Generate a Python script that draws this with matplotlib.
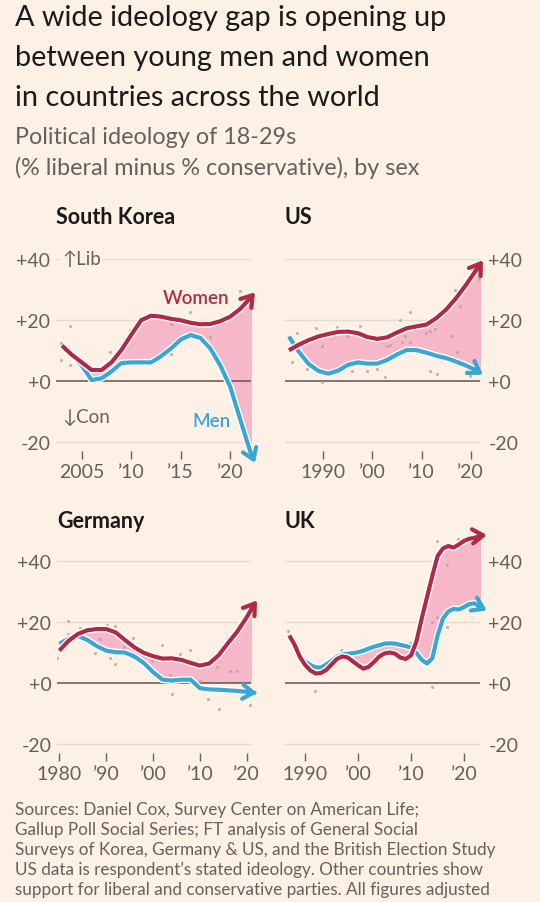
import numpy as np
import matplotlib
matplotlib.use("Agg")
import matplotlib.pyplot as plt
import matplotlib.patheffects as pe

plt.rcParams['font.family'] = ['Lato', 'DejaVu Sans']

# ---- data ----
kr_years = [2003, 2004, 2005, 2006, 2007, 2008, 2009, 2010, 2011, 2012, 2013,
            2014, 2015, 2016, 2017, 2018, 2019, 2020, 2021, 2022, 2022.5]
kr_women = [11.5, 8.5, 6, 3.5, 3.5, 6, 10, 15, 19.8, 21.3, 21, 20.3, 19.8, 19,
            18.5, 18.6, 19.5, 21, 23.5, 27, 29]
kr_men = [11, 8.5, 5, 0.2, 0.8, 3, 5.8, 6, 6, 6, 8, 10.5, 13.5, 15, 14, 10.5,
          5, -2, -12.6, -23, -27]
kr_dots_x = [2003.8, 2002.9, 2002.9, 2003.8, 2007.9, 2009.9, 2014, 2015.9, 2018,
             2021, 2022.1, 2006.9, 2008.9, 2014, 2015.6]
kr_dots_y = [17.8, 12.3, 6.9, 5.2, 9.3, 16.7, 18.5, 22.4, 14.2, 29.5, 25.1,
             0.5, 6, 8.7, 14.8]

us_years = [1983, 1985, 1987, 1989, 1991, 1993, 1995, 1997, 1999, 2001, 2003,
            2005, 2007, 2009, 2011, 2013, 2015, 2017, 2019, 2021, 2022.5]
us_women = [10, 11.8, 13.3, 14.5, 15.3, 16, 16.1, 15.6, 14.3, 13.7, 14.2, 15.8,
            17.2, 17.8, 18.4, 20.5, 23.3, 27, 31.3, 36, 39.5]
us_men = [14.5, 9.5, 5.5, 3.2, 2.3, 3.3, 5.2, 6, 5.6, 5.6, 6.8, 8.6, 10.1, 10,
          9.2, 8.2, 7.4, 6.3, 5, 3.5, 2]
us_dots_x = [1984.6, 1988.6, 1992.7, 1997.5, 2005.6, 2007.7, 2011, 2011.7, 2012.7,
             2014.4, 2016.8, 2017.8, 2020.5, 2021.6, 1989.7, 2002.9, 2003.6,
             2006.6, 1994.8, 1983.6, 1986.6, 1989.7, 1995.8, 1998.8, 2000.9,
             2002.6, 2006, 2007.7, 2011.7, 2013.1, 2016.1, 2017.2, 2019.2, 2019.9]
us_dots_y = [15.8, 17.2, 17.5, 17.8, 20, 22.4, 15.8, 16.4, 16.9, 23.5, 29.8, 24.6,
             36.6, 33.5, 11.5, 11.5, 11.8, 14.8, 14.8, 6, 3.8, -0.3, 3.3, 3.3,
             3.8, 1.1, 12.8, 12.6, 3.3, 2.2, 14.5, 9.5, 3.3, 1.6]

de_years = [1980, 1982, 1984, 1986, 1988, 1990, 1992, 1994, 1996, 1998, 2000,
            2002, 2004, 2006, 2008, 2010, 2012, 2014, 2016, 2018, 2020, 2021.5,
            2022.2]
de_women = [10.5, 13.8, 16, 17.2, 17.6, 17.6, 16.5, 14, 11.6, 9.8, 8.7, 7.9, 8,
            7.5, 6.5, 5.6, 6.3, 9, 13, 16.8, 21.5, 25.5, 27]
de_men = [12.8, 14.5, 15.3, 14, 12, 10.5, 10, 9.9, 8.6, 6.5, 3.5, 1, 0.7, 1, 1,
          -1.8, -2.2, -2.3, -2.5, -2.7, -3, -3.3, -3.4]
de_dots_x = [1979.6, 1981.9, 1981.9, 1984.4, 1987.6, 1988.7, 1990.1, 1991.9,
             1990.8, 1991.9, 1993.7, 1995.8, 1997.9, 1999.7, 2001.9, 2003.7, 2004,
             2005.8, 2007.9, 2010, 2011.8, 2013.6, 2014, 2015.7, 2016.4, 2017.9,
             2020.7]
de_dots_y = [8, 20.3, 16, 17.8, 9.7, 14.3, 18.9, 18.7, 8, 6.1, 11.6, 14.5, 7.8,
             7.2, 12.5, 2.5, -3.7, 9.4, 10.8, 0.7, -5.4, 5, -8.6, 14.3, 3.9, 3.9,
             -7.3]

uk_years = [1987, 1988, 1989, 1990, 1991, 1992, 1993, 1994, 1995, 1996, 1997,
            1998, 1999, 2000, 2001, 2002, 2003, 2004, 2005, 2006, 2007, 2008,
            2009, 2010, 2011, 2012, 2013, 2014, 2015, 2016, 2017, 2018, 2019,
            2020, 2021, 2022, 2023, 2024.3]
uk_women = [15.5, 12.5, 8.5, 5.8, 4, 3, 3.2, 4.2, 6, 7.8, 8.6, 8.3, 7, 5.7, 4.6,
            5.2, 6.8, 8.6, 9.6, 9.9, 9.5, 8.2, 7.8, 9, 13.5, 21, 28, 35, 41.5,
            44, 44.8, 44.3, 45.3, 46.5, 47.2, 47.5, 48.2, 48.4]
uk_men = [np.nan, np.nan, 9, 7, 5.8, 5, 5, 6, 7.2, 8.5, 9.2, 9.5, 9.7, 10, 10.5,
          11.2, 11.8, 12.3, 12.8, 12.9, 12.8, 12.4, 12, 11.5, 9.8, 7.5, 6.3, 8,
          15.5, 21, 23.3, 24.2, 24, 24.8, 25.8, 26, 24.8, 23.7]
uk_dots_x = [1986.7, 1991.9, 1996.7, 2009.8, 2013.9, 2013.9, 2014.8, 2016.7,
             2016.7, 2018.9, 2014.8]
uk_dots_y = [17, -2.6, 10.8, 13, -1.5, 20, 46.6, 38.6, 18.1, 47.1, 21.7]

y_ticks = [-20, 0, 20, 40]
y_labels = ['-20', '+0', '+20', '+40']

BG = '#fdf1e6'
RED = '#b02a48'
BLUE = '#3aa6d2'
PINK = '#f6b8c9'
GREY = '#66605c'
GRID = '#e6dbd0'

W, H = 540, 903
PXU = 3.05  # pixels per percentage point
YLO, YHI = -23, 52

fig = plt.figure(figsize=(W / 100, H / 100), dpi=100, facecolor=BG)


def fx(x):
    return x / W


def fy(y):
    return 1 - y / H


def panel(x0, x1, zero_px, xlim, side, title, title_y,
          years, women, men, dx, dy, xticks, xlabels, floor_zero=False):
    bot = zero_px - YLO * PXU
    top = zero_px - YHI * PXU
    ax = fig.add_axes([fx(x0), fy(bot), (x1 - x0) / W, (bot - top) / H])
    ax.set_facecolor('none')
    ax.set_xlim(*xlim)
    ax.set_ylim(YLO, YHI)
    for s in ax.spines.values():
        s.set_visible(False)

    years = np.array(years, dtype=float)
    women = np.array(women, dtype=float)
    men = np.array(men, dtype=float)

    for v in (-20, 20, 40):
        ax.axhline(v, color=GRID, lw=1, zorder=0)
    floor = np.maximum(men, 0) if floor_zero else men
    ax.fill_between(years, women, floor, where=~np.isnan(men),
                    color=PINK, lw=0, zorder=1)
    ax.axhline(0, color=GREY, lw=1.2, zorder=2)
    ax.scatter(dx, dy, s=5, color='#b8a09c', alpha=0.8, lw=0, zorder=2)

    for vals, c in ((men, BLUE), (women, RED)):
        ok = ~np.isnan(vals)
        xs, ys = years[ok], vals[ok]
        ax.plot(xs[:-1], ys[:-1], color=c, lw=3, solid_capstyle='butt',
                solid_joinstyle='round', clip_on=False, zorder=3,
                path_effects=[pe.Stroke(linewidth=5, foreground='white'),
                              pe.Normal()])
        ax.annotate('', xy=(xs[-1], ys[-1]), xytext=(xs[-2], ys[-2]),
                    annotation_clip=False, zorder=4,
                    arrowprops=dict(arrowstyle='->,head_length=0.45,head_width=0.3',
                                    color=c, lw=3, shrinkA=0, shrinkB=0,
                                    mutation_scale=17))

    ax.set_yticks(y_ticks)
    ax.set_yticklabels(y_labels)
    if side == 'left':
        ax.yaxis.tick_left()
        ax.tick_params(axis='y', length=0, pad=4, labelsize=14, labelcolor=GREY)
    else:
        ax.yaxis.tick_right()
        ax.tick_params(axis='y', length=0, pad=6, labelsize=14, labelcolor=GREY)
    ax.set_xticks(xticks)
    ax.set_xticklabels(xlabels)
    ax.tick_params(axis='x', length=6, width=1, color=GREY, pad=3,
                   labelsize=14, labelcolor=GREY, direction='out')

    fig.text(fx(x0), fy(title_y), title, fontsize=15.5, fontweight='bold',
             color='#1a1a1a', va='center', ha='left')
    return ax


ax_kr = panel(56, 251, 381.7, (2002.4, 2022.1), 'left', 'South Korea', 218,
              kr_years, kr_women, kr_men, kr_dots_x, kr_dots_y,
              [2005, 2010, 2015, 2020], ['2005', '’10', '’15', '’20'])
ax_us = panel(285, 480, 381.7, (1982.2, 2021.9), 'right', 'US', 218,
              us_years, us_women, us_men, us_dots_x, us_dots_y,
              [1990, 2000, 2010, 2020], ['1990', '’00', '’10', '’20'])
ax_de = panel(57, 251, 683.7, (1979.5, 2020.9), 'left', 'Germany', 521,
              de_years, de_women, de_men, de_dots_x, de_dots_y,
              [1980, 1990, 2000, 2010, 2020], ['1980', '’90', '’00', '’10', '’20'],
              floor_zero=True)
ax_uk = panel(285, 480, 683.7, (1986.2, 2023.0), 'right', 'UK', 521,
              uk_years, uk_women, uk_men, uk_dots_x, uk_dots_y,
              [1990, 2000, 2010, 2020], ['1990', '’00', '’10', '’20'])

# labels inside the Korea panel
ax_kr.text(2003.0, 40, '↑Lib', fontsize=13.5, color=GREY, va='center', ha='left',
           zorder=5, bbox=dict(facecolor=BG, edgecolor='none', pad=1))
ax_kr.text(2003.0, -11.6, '↓Con', fontsize=13.5, color=GREY, va='center', ha='left')
ax_kr.text(2016.6, 27.4, 'Women', fontsize=13.5, color=RED, fontweight='semibold',
           va='center', ha='center')
ax_kr.text(2018.1, -13.2, 'Men', fontsize=13.5, color=BLUE, fontweight='semibold',
           va='center', ha='center')

# titles
title = ['A wide ideology gap is opening up',
         'between young men and women',
         'in countries across the world']
for i, line in enumerate(title):
    fig.text(fx(15), fy(18 + 40 * i), line, fontsize=20.8, color='#1a1a1a',
             va='center', ha='left')
subtitle = ['Political ideology of 18-29s',
            '(% liberal minus % conservative), by sex']
for i, line in enumerate(subtitle):
    fig.text(fx(15), fy(138 + 30 * i), line, fontsize=16.8, color=GREY,
             va='center', ha='left')

footer = ['Sources: Daniel Cox, Survey Center on American Life;',
          'Gallup Poll Social Series; FT analysis of General Social',
          'Surveys of Korea, Germany & US, and the British Election Study',
          'US data is respondent’s stated ideology. Other countries show',
          'support for liberal and conservative parties. All figures adjusted']
for i, line in enumerate(footer):
    fig.text(fx(15), fy(810 + 20 * i), line, fontsize=12.3, color=GREY,
             va='center', ha='left')

fig.savefig('out.png', dpi=100, facecolor=BG)
